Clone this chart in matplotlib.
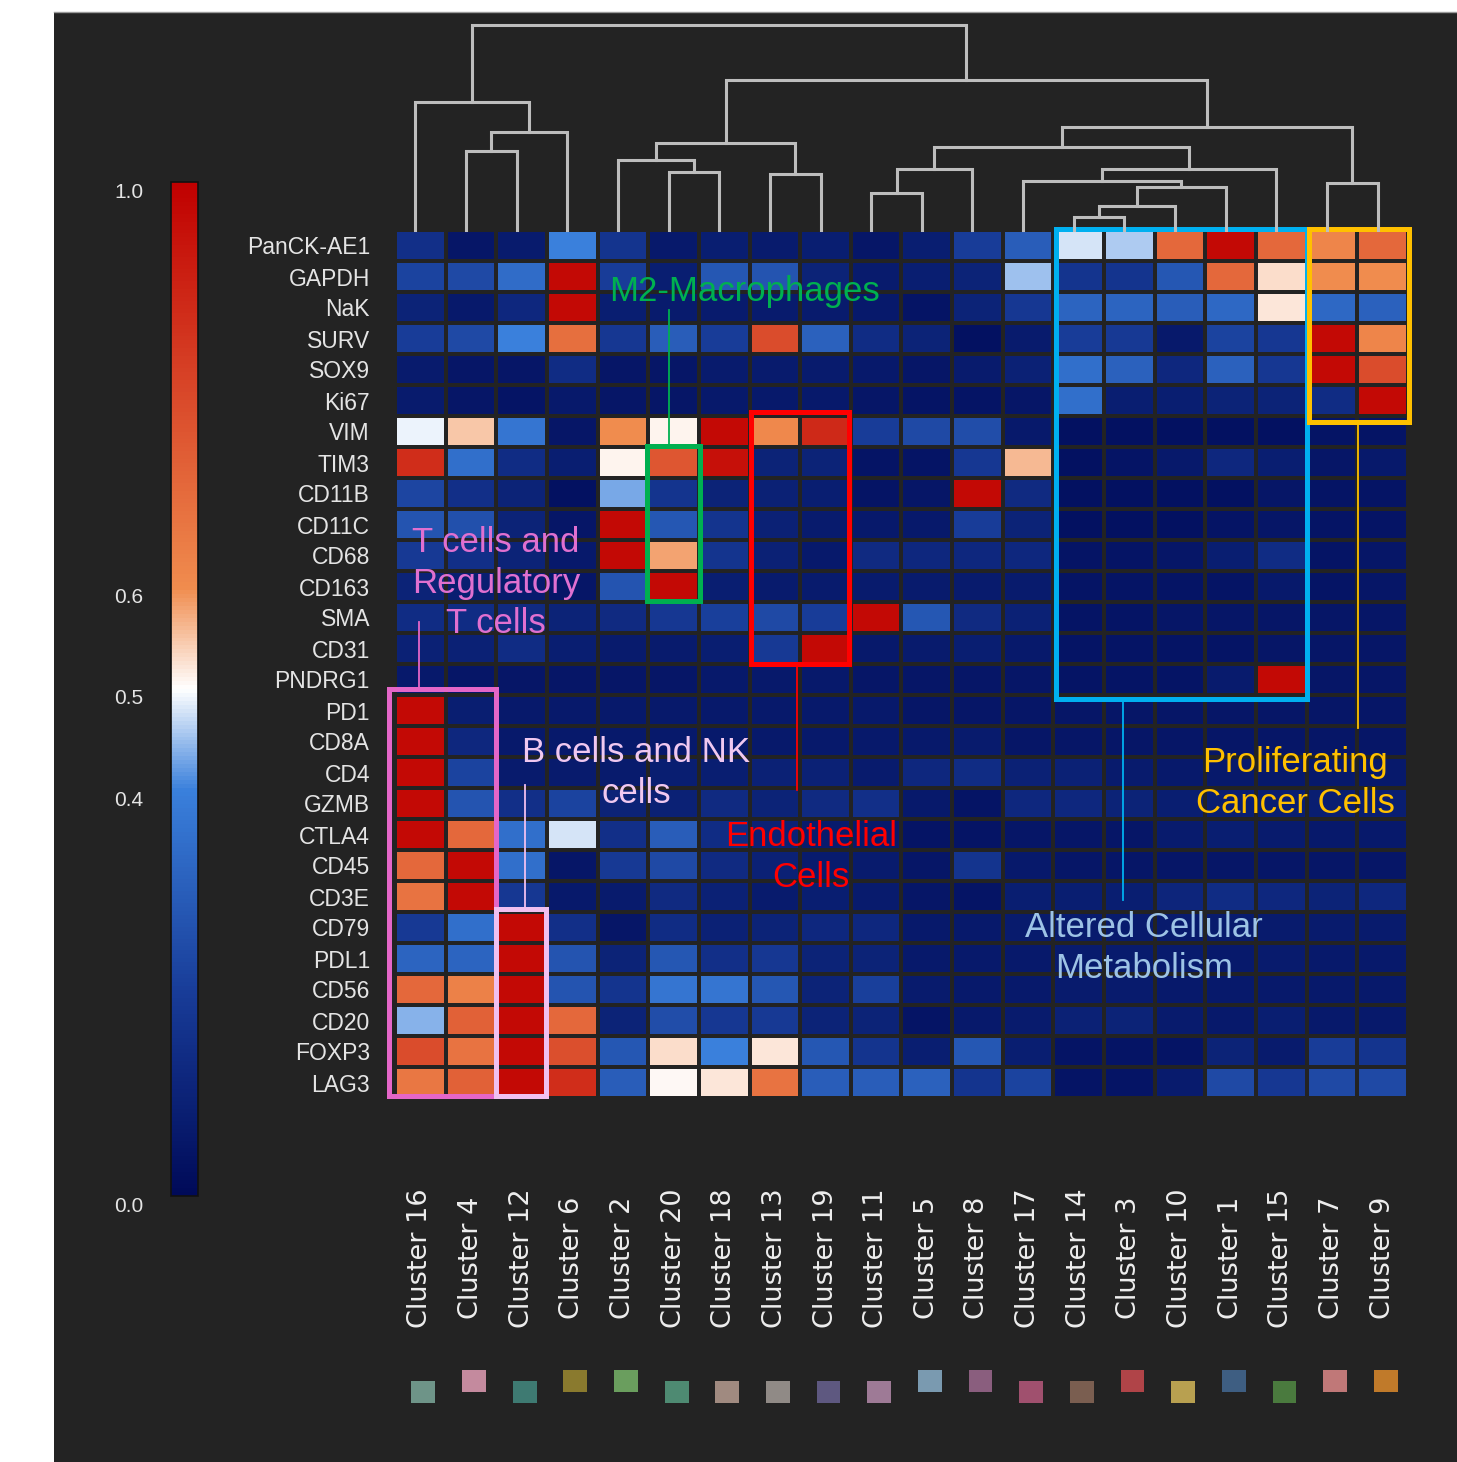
import numpy as np
import matplotlib.pyplot as plt
from matplotlib.colors import LinearSegmentedColormap
from matplotlib.patches import Rectangle
from matplotlib.lines import Line2D
from matplotlib.transforms import ScaledTranslation

plt.rcParams['font.family'] = ['Liberation Sans', 'DejaVu Sans']

# ---- data ----
clusters = ['Cluster 16', 'Cluster 4', 'Cluster 12', 'Cluster 6', 'Cluster 2',
            'Cluster 20', 'Cluster 18', 'Cluster 13', 'Cluster 19', 'Cluster 11',
            'Cluster 5', 'Cluster 8', 'Cluster 17', 'Cluster 14', 'Cluster 3',
            'Cluster 10', 'Cluster 1', 'Cluster 15', 'Cluster 7', 'Cluster 9']

markers = ['PanCK-AE1', 'GAPDH', 'NaK', 'SURV', 'SOX9', 'Ki67', 'VIM', 'TIM3',
           'CD11B', 'CD11C', 'CD68', 'CD163', 'SMA', 'CD31', 'PNDRG1', 'PD1',
           'CD8A', 'CD4', 'GZMB', 'CTLA4', 'CD45', 'CD3E', 'CD79', 'PDL1',
           'CD56', 'CD20', 'FOXP3', 'LAG3']

panck = [0.15, 0.05, 0.07, 0.40, 0.17, 0.06, 0.08, 0.07, 0.08, 0.05, 0.08, 0.20, 0.30, 0.48, 0.46, 0.70, 0.97, 0.70, 0.62, 0.70]
gapdh = [0.22, 0.24, 0.34, 0.97, 0.20, 0.08, 0.28, 0.27, 0.10, 0.07, 0.08, 0.10, 0.45, 0.17, 0.17, 0.28, 0.70, 0.53, 0.60, 0.60]
nak = [0.10, 0.06, 0.12, 0.97, 0.08, 0.07, 0.07, 0.07, 0.07, 0.06, 0.04, 0.10, 0.18, 0.32, 0.32, 0.30, 0.33, 0.52, 0.33, 0.31]
surv = [0.20, 0.24, 0.40, 0.68, 0.18, 0.30, 0.20, 0.78, 0.31, 0.14, 0.10, 0.03, 0.07, 0.20, 0.19, 0.06, 0.22, 0.18, 0.97, 0.62]
sox9 = [0.07, 0.05, 0.05, 0.14, 0.05, 0.05, 0.07, 0.07, 0.07, 0.06, 0.05, 0.07, 0.09, 0.35, 0.31, 0.12, 0.31, 0.18, 0.97, 0.78]
ki67 = [0.07, 0.05, 0.04, 0.06, 0.05, 0.05, 0.06, 0.06, 0.06, 0.05, 0.04, 0.04, 0.05, 0.35, 0.08, 0.08, 0.10, 0.10, 0.14, 0.97]
vim = [0.49, 0.55, 0.37, 0.05, 0.60, 0.51, 0.97, 0.61, 0.88, 0.20, 0.24, 0.25, 0.06, 0.03, 0.03, 0.03, 0.03, 0.03, 0.04, 0.04]
tim3 = [0.87, 0.35, 0.14, 0.08, 0.51, 0.75, 0.95, 0.10, 0.10, 0.04, 0.04, 0.18, 0.56, 0.03, 0.04, 0.06, 0.12, 0.08, 0.05, 0.06]
cd11b = [0.23, 0.15, 0.10, 0.03, 0.43, 0.17, 0.10, 0.09, 0.08, 0.04, 0.05, 0.97, 0.13, 0.03, 0.03, 0.03, 0.03, 0.05, 0.04, 0.04]
cd11c = [0.27, 0.26, 0.10, 0.05, 0.97, 0.28, 0.17, 0.09, 0.07, 0.06, 0.06, 0.20, 0.10, 0.03, 0.03, 0.03, 0.04, 0.05, 0.04, 0.04]
cd68 = [0.19, 0.15, 0.10, 0.06, 0.97, 0.58, 0.17, 0.09, 0.06, 0.13, 0.12, 0.12, 0.12, 0.04, 0.04, 0.05, 0.08, 0.14, 0.04, 0.05]
cd163 = [0.10, 0.08, 0.07, 0.05, 0.27, 0.97, 0.08, 0.07, 0.07, 0.07, 0.07, 0.07, 0.07, 0.04, 0.04, 0.04, 0.04, 0.06, 0.04, 0.05]
sma = [0.14, 0.14, 0.13, 0.10, 0.13, 0.18, 0.21, 0.24, 0.20, 0.97, 0.28, 0.13, 0.09, 0.04, 0.04, 0.05, 0.05, 0.05, 0.05, 0.05]
cd31 = [0.09, 0.09, 0.14, 0.08, 0.07, 0.07, 0.08, 0.19, 0.97, 0.06, 0.07, 0.08, 0.06, 0.04, 0.04, 0.04, 0.04, 0.05, 0.05, 0.05]
pndrg1 = [0.06, 0.05, 0.05, 0.05, 0.05, 0.05, 0.06, 0.06, 0.06, 0.05, 0.05, 0.05, 0.05, 0.04, 0.04, 0.04, 0.07, 0.97, 0.05, 0.05]
pd1 = [0.97, 0.08, 0.06, 0.06, 0.06, 0.06, 0.06, 0.06, 0.06, 0.06, 0.05, 0.05, 0.05, 0.05, 0.05, 0.05, 0.05, 0.05, 0.05, 0.05]
cd8a = [0.97, 0.12, 0.06, 0.06, 0.06, 0.06, 0.06, 0.06, 0.06, 0.06, 0.06, 0.07, 0.05, 0.05, 0.05, 0.05, 0.05, 0.05, 0.05, 0.05]
cd4 = [0.97, 0.22, 0.07, 0.07, 0.07, 0.08, 0.08, 0.09, 0.09, 0.07, 0.12, 0.14, 0.09, 0.09, 0.07, 0.06, 0.06, 0.06, 0.06, 0.06]
gzmb = [0.97, 0.27, 0.15, 0.22, 0.10, 0.09, 0.13, 0.10, 0.13, 0.15, 0.06, 0.04, 0.12, 0.12, 0.10, 0.08, 0.08, 0.08, 0.08, 0.08]
ctla4 = [0.97, 0.70, 0.35, 0.48, 0.15, 0.30, 0.14, 0.09, 0.07, 0.06, 0.04, 0.04, 0.05, 0.05, 0.05, 0.07, 0.08, 0.07, 0.06, 0.06]
cd45 = [0.70, 0.97, 0.35, 0.05, 0.19, 0.24, 0.13, 0.09, 0.07, 0.07, 0.05, 0.17, 0.06, 0.05, 0.05, 0.05, 0.05, 0.05, 0.05, 0.05]
cd3e = [0.67, 0.97, 0.18, 0.06, 0.07, 0.13, 0.09, 0.07, 0.08, 0.07, 0.05, 0.04, 0.08, 0.08, 0.08, 0.11, 0.14, 0.12, 0.10, 0.12]
cd79 = [0.19, 0.35, 0.97, 0.15, 0.05, 0.14, 0.09, 0.10, 0.12, 0.12, 0.06, 0.06, 0.07, 0.07, 0.07, 0.07, 0.07, 0.07, 0.07, 0.07]
pdl1 = [0.32, 0.32, 0.97, 0.27, 0.10, 0.28, 0.15, 0.18, 0.10, 0.10, 0.06, 0.06, 0.06, 0.07, 0.07, 0.07, 0.06, 0.07, 0.06, 0.06]
cd56 = [0.70, 0.63, 0.97, 0.27, 0.17, 0.37, 0.37, 0.28, 0.10, 0.21, 0.07, 0.06, 0.06, 0.07, 0.07, 0.06, 0.06, 0.06, 0.06, 0.06]
cd20 = [0.44, 0.72, 0.97, 0.70, 0.10, 0.25, 0.18, 0.19, 0.10, 0.10, 0.04, 0.06, 0.07, 0.09, 0.10, 0.07, 0.06, 0.08, 0.06, 0.06]
foxp3 = [0.78, 0.67, 0.97, 0.77, 0.28, 0.53, 0.40, 0.52, 0.28, 0.17, 0.08, 0.28, 0.08, 0.04, 0.04, 0.04, 0.10, 0.07, 0.20, 0.17]
lag3 = [0.66, 0.72, 0.97, 0.87, 0.30, 0.505, 0.52, 0.67, 0.30, 0.30, 0.31, 0.17, 0.22, 0.04, 0.04, 0.07, 0.24, 0.18, 0.24, 0.24]

# dendrogram merges (scipy style: ids >= 20 are earlier merges), height in distance units
merges = [(13, 14, 13), (20, 15, 24), (21, 16, 43), (12, 22, 49), (9, 10, 37),
          (5, 6, 58), (7, 8, 56), (18, 19, 47), (24, 11, 61), (23, 17, 61),
          (4, 25, 70), (1, 2, 79), (28, 29, 83), (30, 26, 87), (31, 3, 98),
          (32, 27, 103), (0, 34, 128), (33, 35, 150), (36, 37, 205)]

swatch_colors = ['#6e9488', '#c48a9e', '#3e7a72', '#8a7a2e', '#6a9e5e',
                 '#4e8a72', '#a08a80', '#908a86', '#5e5880', '#9e7a96',
                 '#7a9ab0', '#8a5e7e', '#a0506e', '#7a5e50', '#b04448',
                 '#b8a050', '#3e5e82', '#4a7a3e', '#c07878', '#c07a2a']

data = np.array([panck, gapdh, nak, surv, sox9, ki67, vim, tim3, cd11b, cd11c,
                 cd68, cd163, sma, cd31, pndrg1, pd1, cd8a, cd4, gzmb, ctla4,
                 cd45, cd3e, cd79, pdl1, cd56, cd20, foxp3, lag3])

cmap = LinearSegmentedColormap.from_list('bwr_dark', [
    (0.0, '#000a58'), (0.2, '#183c98'), (0.4, '#3a80dc'), (0.5, '#ffffff'),
    (0.6, '#f08c4e'), (0.8, '#d84528'), (1.0, '#c00000')])

W, H = 1457, 1462
BG = '#232323'


def px_box(x0, y0, x1, y1):
    return [x0 / W, 1 - y1 / H, (x1 - x0) / W, (y1 - y0) / H]


fig = plt.figure(figsize=(W / 100, H / 100), dpi=100, facecolor='white')
fig.patches.append(Rectangle((54 / W, 0), 1 - 54 / W, 1 - 12 / H, transform=fig.transFigure,
                             facecolor=BG, edgecolor='none', zorder=-10))
fig.lines.append(Line2D([54 / W, 1], [1 - 12 / H, 1 - 12 / H], transform=fig.transFigure,
                        color='#9a9a9a', lw=1))

# ---- heatmap ----
ax = fig.add_axes(px_box(395, 230, 1408, 1098))
ax.set_facecolor(BG)
mesh = ax.pcolormesh(np.arange(len(clusters) + 1), np.arange(len(markers) + 1), data,
                     cmap=cmap, vmin=0, vmax=1, edgecolors=BG, linewidth=2.6)
ax.set_xlim(0, len(clusters))
ax.set_ylim(len(markers), 0)
for s in ax.spines.values():
    s.set_visible(False)
ax.set_xticks([])
ax.set_yticks(np.arange(len(markers)) + 0.5)
ax.set_yticklabels(markers, fontsize=16.5, color='#e4e4e4')
ax.tick_params(axis='y', length=0, pad=18)

for i, name in enumerate(clusters):
    ax.text(i + 0.5, 33.16, name, rotation=90, ha='center', va='center',
            fontsize=19.5, color='#eeeeee', family='DejaVu Sans', clip_on=False)

raised = {1, 3, 4, 10, 11, 14, 16, 18, 19}
for i, c in enumerate(swatch_colors):
    yc = 37.13 if i in raised else 37.48
    ax.add_patch(Rectangle((i + 0.5 - 0.235 + 0.06, yc - 0.355), 0.47, 0.71,
                           facecolor=c, edgecolor='none', clip_on=False))

# ---- group annotations ----
boxes = [((4.97, 6.97), 1.06, 5.0, '#00b050'),
         ((7.02, 5.87), 1.95, 8.13, '#ff0000'),
         ((-0.12, 14.8), 2.12, 13.15, '#e466c8'),
         ((2.0, 21.9), 0.98, 6.05, '#f0c0f0'),
         ((13.05, -0.02), 4.95, 15.15, '#00b0f0'),
         ((18.05, -0.02), 1.97, 6.2, '#ffc000')]
for xy, w, h, col in boxes:
    ax.add_patch(Rectangle(xy, w, h, fill=False, edgecolor=col, lw=3.6, clip_on=False, zorder=5))

leaders = [(5.4, 2.58, 6.97, '#00b050'),
           (7.94, 14.0, 18.06, '#ff0000'),
           (0.47, 14.8, 12.65, '#e466c8'),
           (2.57, 21.9, 17.9, '#f0c0f0'),
           (14.37, 15.15, 21.6, '#00b0f0'),
           (19.01, 6.2, 16.06, '#ffc000')]
for x, y0, y1, col in leaders:
    ax.plot([x, x], [y0, y1], color=col, lw=1.3, clip_on=False, zorder=5)

labels = [(6.91, 2.0, 'M2-Macrophages', '#00b050'),
          (8.21, 20.23, 'Endothelial\nCells', '#ff0000'),
          (1.99, 11.39, 'T cells and\nRegulatory\nT cells', '#e070d0'),
          (4.76, 17.52, 'B cells and NK\ncells', '#f0c8f0'),
          (14.79, 23.16, 'Altered Cellular\nMetabolism', '#9dc3e6'),
          (17.77, 17.84, 'Proliferating\nCancer Cells', '#ffc000')]
for x, y, t, col in labels:
    ax.text(x, y, t, ha='center', va='center', fontsize=25, color=col,
            linespacing=1.3, clip_on=False, zorder=6)

# ---- dendrogram ----
dax = fig.add_axes(px_box(390, 20, 1403, 230))
dax.set_xlim(0, len(clusters))
dax.set_ylim(0, 210)
dax.axis('off')
pos = {i: (i + 0.5, 0.0) for i in range(len(clusters))}
for k, (a, b, h) in enumerate(merges):
    xa, ha = pos[a]
    xb, hb = pos[b]
    dax.plot([xa, xa, xb, xb], [ha, h, h, hb], color='#bdbdbd', lw=2.2,
             solid_joinstyle='miter', clip_on=False)
    pos[len(clusters) + k] = ((xa + xb) / 2, h)

# ---- colour bar ----
cax = fig.add_axes(px_box(171, 182, 198, 1196))
cb = fig.colorbar(mesh, cax=cax, ticks=[0.0, 0.4, 0.5, 0.6, 1.0])
cb.outline.set_edgecolor('#111111')
cb.outline.set_linewidth(1.2)
cax.yaxis.set_ticks_position('left')
cax.set_yticklabels(['0.0', '0.4', '0.5', '0.6', '1.0'])
cax.tick_params(length=0, pad=20, labelsize=15, labelcolor='#e4e4e4')
shift = ScaledTranslation(0, -0.08, fig.dpi_scale_trans)
for lab in cax.get_yticklabels():
    lab.set_transform(lab.get_transform() + shift)

fig.savefig('out.png', dpi=100, facecolor=fig.get_facecolor())
